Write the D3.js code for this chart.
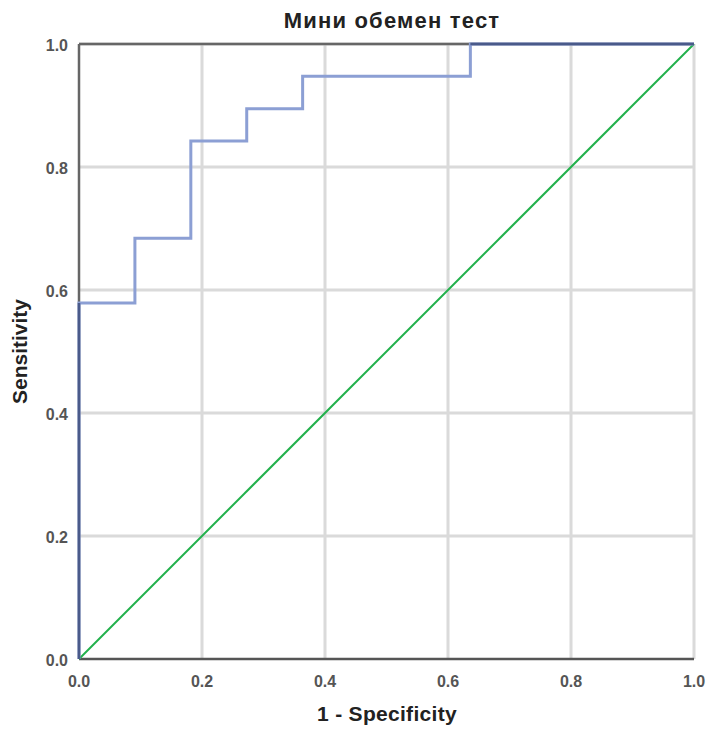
<!DOCTYPE html>
<html><head><meta charset="utf-8">
<script src="https://cdn.jsdelivr.net/npm/d3@7"></script>
<style>body{margin:0;background:#fff}svg{display:block}</style>
</head><body>
<script>
const title = "Мини обемен тест";
const xLabel = "1 - Specificity";
const yLabel = "Sensitivity";
const ticks = [0, 0.2, 0.4, 0.6, 0.8, 1.0];
const rocFpr = [0, 0, 1/11, 1/11, 2/11, 2/11, 3/11, 3/11, 4/11, 4/11, 7/11, 7/11, 1];
const rocTpr = [0, 11/19, 11/19, 13/19, 13/19, 16/19, 16/19, 17/19, 17/19, 18/19, 18/19, 1, 1];
const refLine = [0, 1];

const W = 710, H = 729;
const m = {left: 79, right: 16, top: 44, bottom: 70};
const svg = d3.select("body").append("svg").attr("width", W).attr("height", H);
const x = d3.scaleLinear().domain([0,1]).range([m.left, W - m.right]);
const y = d3.scaleLinear().domain([0,1]).range([H - m.bottom, m.top]);
const font = "'Liberation Sans', Arial, sans-serif";

// grid
const g = svg.append("g");
g.selectAll(".vx").data(ticks.slice(1)).enter().append("line")
  .attr("x1", d => x(d)).attr("x2", d => x(d)).attr("y1", y(0)).attr("y2", y(1))
  .attr("stroke", "#dadada").attr("stroke-width", 3);
g.selectAll(".hy").data(ticks.slice(1)).enter().append("line")
  .attr("y1", d => y(d)).attr("y2", d => y(d)).attr("x1", x(0)).attr("x2", x(1))
  .attr("stroke", "#dadada").attr("stroke-width", 3);

// axes lines
svg.append("line").attr("x1", x(0)).attr("x2", x(1)).attr("y1", y(1)).attr("y2", y(1))
  .attr("stroke", "#666").attr("stroke-width", 2.5);
svg.append("line").attr("x1", x(0)).attr("x2", x(0)).attr("y1", y(0)).attr("y2", y(1))
  .attr("stroke", "#666").attr("stroke-width", 2.5);
svg.append("line").attr("x1", x(0)).attr("x2", x(1)).attr("y1", y(0)).attr("y2", y(0))
  .attr("stroke", "#555").attr("stroke-width", 2.5);

// diagonal
svg.append("line").attr("x1", x(refLine[0])).attr("y1", y(refLine[0]))
  .attr("x2", x(refLine[1])).attr("y2", y(refLine[1]))
  .attr("stroke", "#22b14c").attr("stroke-width", 2);

// ROC
const pts = rocFpr.map((f,i) => [f, rocTpr[i]]);
svg.append("path").datum(pts)
  .attr("d", d3.line().x(d => x(d[0])).y(d => y(d[1])))
  .attr("fill", "none").attr("stroke", "#8c9fd4").attr("stroke-width", 3);
// overlap segments appear dark
svg.append("line").attr("x1", x(0)).attr("x2", x(0)).attr("y1", y(0)).attr("y2", y(11/19))
  .attr("stroke", "#4a5a8a").attr("stroke-width", 2.5);
svg.append("line").attr("x1", x(7/11)).attr("x2", x(1)).attr("y1", y(1)).attr("y2", y(1))
  .attr("stroke", "#4a5a8a").attr("stroke-width", 2.5);

// tick labels
svg.selectAll(".xt").data(ticks).enter().append("text")
  .attr("x", d => x(d)).attr("y", y(0) + 28).attr("text-anchor", "middle")
  .attr("font-family", font).attr("font-size", 16).attr("font-weight", "bold").attr("fill", "#555")
  .text(d => d.toFixed(1));
svg.selectAll(".yt").data(ticks).enter().append("text")
  .attr("x", x(0) - 11).attr("y", d => y(d) + 7).attr("text-anchor", "end")
  .attr("font-family", font).attr("font-size", 16).attr("font-weight", "bold").attr("fill", "#555")
  .text(d => d.toFixed(1));

// titles
svg.append("text").attr("x", 392).attr("y", 28).attr("text-anchor", "middle")
  .attr("font-family", font).attr("font-size", 22).attr("font-weight", "bold").attr("fill", "#222")
  .attr("letter-spacing", 1.2)
  .text(title);
svg.append("text").attr("x", 387).attr("y", 721).attr("text-anchor", "middle")
  .attr("font-family", font).attr("font-size", 21).attr("font-weight", "bold").attr("fill", "#222")
  .attr("letter-spacing", 0.3)
  .text(xLabel);
svg.append("text").attr("transform", `translate(27,${(y(0)+y(1))/2}) rotate(-90)`).attr("text-anchor", "middle")
  .attr("font-family", font).attr("font-size", 21).attr("font-weight", "bold").attr("fill", "#222")
  .text(yLabel);
</script>
</body></html>
